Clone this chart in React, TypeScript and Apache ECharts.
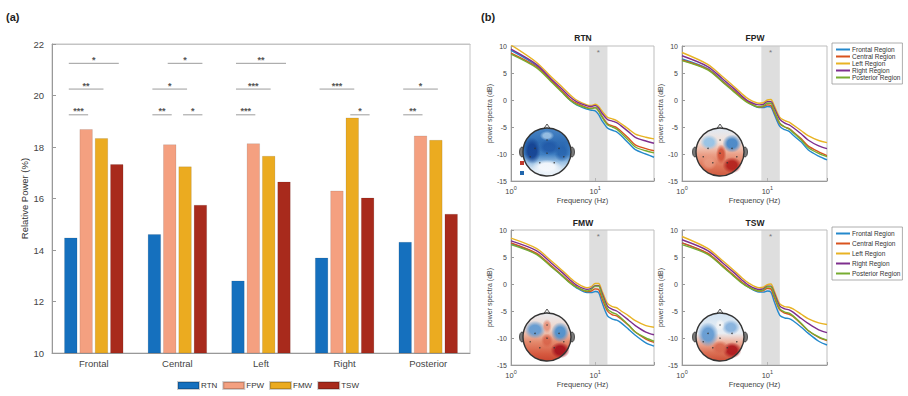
import React, { useEffect, useRef } from 'react';
import * as echarts from 'echarts';

// ---------- (a) bar chart data ----------
const regions = ['Frontal', 'Central', 'Left', 'Right', 'Posterior'];
const groups = ['RTN', 'FPW', 'FMW', 'TSW'];
const rtnPower = [14.48, 14.61, 12.81, 13.7, 14.31];
const fpwPower = [18.69, 18.1, 18.14, 16.3, 18.44];
const fmwPower = [18.34, 17.24, 17.65, 19.14, 18.27];
const tswPower = [17.33, 15.75, 16.65, 16.03, 15.4];
const yTicksA = { min: 10, max: 22, interval: 2 };

// significance brackets
const sigCategory = [0, 0, 0, 1, 1, 1, 1, 2, 2, 2, 3, 3, 4, 4];
const sigFrom = [0, 0, 0, 1, 0, 0, 2, 0, 0, 0, 0, 2, 0, 0];
const sigTo = [3, 2, 1, 3, 2, 1, 3, 3, 2, 1, 2, 3, 2, 1];
const sigLevel = [21.25, 20.25, 19.25, 21.25, 20.25, 19.25, 19.25, 21.25, 20.25, 19.25, 20.25, 19.25, 20.25, 19.25];
const sigStars = [1, 2, 3, 1, 1, 2, 1, 2, 3, 3, 3, 1, 1, 2];

// ---------- (b) spectra data ----------
const freqHz = [1, 2, 3, 4, 5, 6, 8, 9, 10, 11, 12, 14, 16, 18, 20, 25, 30, 40, 50];
const alphaBand = [8.5, 14];
const regionNames = ['Frontal Region', 'Central Region', 'Left Region', 'Right Region', 'Posterior Region'];

const rtnFrontal = [9.2, 6.4, 3.6, 1.6, 0.0, -0.9, -1.7, -1.9, -2.0, -2.7, -3.8, -5.2, -5.6, -5.9, -6.5, -8.0, -9.2, -10.0, -10.6];
const rtnCentral = [8.7, 6.2, 3.6, 1.7, 0.2, -0.6, -1.4, -1.5, -1.4, -2.0, -3.0, -4.4, -4.8, -5.1, -5.7, -7.1, -8.3, -9.0, -9.4];
const rtnLeft = [10.2, 7.0, 4.3, 2.5, 1.0, 0.0, -0.9, -1.0, -0.8, -1.2, -2.0, -3.2, -3.5, -3.8, -4.3, -5.4, -6.3, -6.9, -7.2];
const rtnRight = [9.4, 6.6, 3.9, 2.1, 0.6, -0.3, -1.1, -1.2, -1.0, -1.5, -2.4, -3.6, -3.9, -4.2, -4.7, -5.9, -6.9, -7.6, -8.0];
const rtnPosterior = [8.5, 6.0, 3.4, 1.5, 0.0, -0.8, -1.5, -1.6, -1.4, -2.0, -3.1, -4.6, -5.0, -5.4, -6.0, -7.5, -8.7, -9.4, -9.8];

const fpwFrontal = [7.6, 5.8, 3.5, 1.8, 0.5, -0.5, -1.4, -1.4, -1.2, -1.3, -2.6, -4.9, -5.5, -5.8, -6.5, -7.8, -9.2, -10.4, -11.1];
const fpwCentral = [7.4, 5.7, 3.4, 1.8, 0.5, -0.4, -1.3, -1.2, -0.9, -1.0, -2.2, -4.4, -5.0, -5.3, -5.9, -7.2, -8.5, -9.6, -10.3];
const fpwLeft = [8.8, 6.6, 4.3, 2.6, 1.2, 0.2, -0.6, -0.5, 0.0, 0.1, -1.0, -3.2, -3.8, -4.1, -4.6, -5.7, -6.6, -7.5, -7.9];
const fpwRight = [8.2, 6.2, 3.9, 2.2, 0.8, -0.2, -0.9, -0.8, -0.3, -0.3, -1.4, -3.6, -4.3, -4.6, -5.1, -6.3, -7.4, -8.5, -9.0];
const fpwPosterior = [7.3, 5.6, 3.3, 1.6, 0.3, -0.6, -1.3, -1.1, -0.6, -0.6, -1.9, -4.3, -5.0, -5.4, -6.0, -7.4, -8.8, -9.9, -10.5];

const fmwFrontal = [7.5, 5.6, 3.3, 1.6, 0.3, -0.7, -1.6, -1.6, -1.4, -1.6, -3.3, -5.9, -6.5, -6.7, -7.1, -8.4, -9.5, -10.9, -11.5];
const fmwCentral = [7.6, 5.7, 3.4, 1.7, 0.4, -0.5, -1.4, -1.3, -0.9, -1.0, -2.6, -5.0, -5.7, -5.9, -6.4, -7.7, -8.9, -10.2, -10.8];
const fmwLeft = [8.5, 6.6, 4.3, 2.6, 1.2, 0.2, -0.7, -0.5, 0.1, 0.1, -1.2, -3.6, -4.2, -4.4, -4.9, -5.9, -6.8, -7.7, -8.0];
const fmwRight = [8.0, 6.2, 3.9, 2.2, 0.8, -0.2, -1.0, -0.8, -0.3, -0.3, -1.6, -4.1, -4.7, -5.0, -5.5, -6.7, -7.7, -8.9, -9.4];
const fmwPosterior = [7.3, 5.5, 3.2, 1.6, 0.2, -0.6, -1.3, -1.0, -0.4, -0.4, -2.0, -4.6, -5.3, -5.6, -6.2, -7.6, -8.9, -10.0, -10.6];

const tswFrontal = [7.6, 5.6, 3.3, 1.6, 0.3, -0.6, -1.5, -1.5, -1.3, -1.5, -3.2, -5.8, -6.3, -6.4, -6.8, -8.0, -9.1, -10.6, -11.3];
const tswCentral = [7.6, 5.7, 3.4, 1.7, 0.4, -0.5, -1.3, -1.2, -0.8, -0.9, -2.4, -4.8, -5.4, -5.6, -6.0, -7.4, -8.6, -9.9, -10.5];
const tswLeft = [8.8, 6.6, 4.3, 2.6, 1.2, 0.2, -0.7, -0.6, -0.1, 0.0, -1.2, -3.7, -4.2, -4.3, -4.6, -5.6, -6.4, -7.2, -7.5];
const tswRight = [8.2, 6.2, 3.9, 2.2, 0.8, -0.2, -1.0, -0.9, -0.4, -0.4, -1.6, -4.1, -4.6, -4.8, -5.2, -6.4, -7.3, -8.5, -9.0];
const tswPosterior = [7.3, 5.5, 3.2, 1.5, 0.2, -0.6, -1.3, -1.1, -0.5, -0.5, -2.0, -4.6, -5.2, -5.4, -5.9, -7.3, -8.6, -9.8, -10.4];

const FONT = 'Liberation Sans, Arial, Helvetica, sans-serif';
const barColors = ['#1570be', '#f4a080', '#ebab20', '#a82a1c'];
const lineColors = ['#2489cc', '#d9531e', '#e8b324', '#7e2f8e', '#77ac30'];
const BAR_W = 13;
const BAR_GAP = 0.18;

function radial(color: string, clear: string) {
  return new echarts.graphic.RadialGradient(0.5, 0.5, 0.5, [
    { offset: 0, color },
    { offset: 0.5, color },
    { offset: 1, color: clear },
  ]);
}

function makeHead(cx: number, cy: number, r: number, base: any, blobs: any[]) {
  const children: any[] = [];
  children.push({ type: 'ellipse', shape: { cx: cx - r - 1, cy, rx: 2.5, ry: 5 }, style: { fill: '#7a7a7a', stroke: '#333', lineWidth: 0.8 } });
  children.push({ type: 'ellipse', shape: { cx: cx + r + 1, cy, rx: 2.5, ry: 5 }, style: { fill: '#7a7a7a', stroke: '#333', lineWidth: 0.8 } });
  children.push({ type: 'polygon', shape: { points: [[cx - 3.5, cy - r + 1], [cx, cy - r - 4], [cx + 3.5, cy - r + 1]] }, style: { fill: '#eee', stroke: '#333', lineWidth: 0.8 } });
  children.push({ type: 'circle', shape: { cx, cy, r }, style: { fill: base } });
  blobs.forEach((b) => {
    children.push({
      type: 'ellipse',
      shape: { cx: cx + b[0] * r, cy: cy + b[1] * r, rx: b[2] * r, ry: b[3] * r },
      style: { fill: radial(b[4], b[5]) },
    });
  });
  [[-0.5, -0.15], [0.5, -0.15], [0, 0.05], [-0.3, 0.45], [0.3, 0.45], [0, -0.5], [-0.7, 0.2], [0.7, 0.2]].forEach((d) => {
    children.push({ type: 'circle', shape: { cx: cx + d[0] * r, cy: cy + d[1] * r, r: 0.7 }, style: { fill: '#333' } });
  });
  children.push({ type: 'circle', shape: { cx, cy, r }, style: { fill: 'none', stroke: '#333', lineWidth: 1.4 } });
  return { type: 'group', z: 100, children };
}

function vgrad(stops: [number, string][]) {
  return new echarts.graphic.LinearGradient(0, 0, 0, 1, stops.map(([offset, color]) => ({ offset, color })));
}

export default function App() {
  const ref = useRef<HTMLDivElement>(null);
  useEffect(() => {
    document.body.style.margin = '0';
    const chart = echarts.init(ref.current!, null, { renderer: 'svg' });

    const barValues = [rtnPower, fpwPower, fmwPower, tswPower];
    const panelNames = ['RTN', 'FPW', 'FMW', 'TSW'];
    const panelData = [
      [rtnFrontal, rtnCentral, rtnLeft, rtnRight, rtnPosterior],
      [fpwFrontal, fpwCentral, fpwLeft, fpwRight, fpwPosterior],
      [fmwFrontal, fmwCentral, fmwLeft, fmwRight, fmwPosterior],
      [tswFrontal, tswCentral, tswLeft, tswRight, tswPosterior],
    ];
    const panelGrids = [
      { left: 511, top: 46, width: 143, height: 135 },
      { left: 682, top: 46, width: 145, height: 135 },
      { left: 511, top: 230, width: 143, height: 135 },
      { left: 682, top: 230, width: 145, height: 135 },
    ];

    const grids: any[] = [
      { left: 52, top: 44, width: 418, height: 309, show: true, borderColor: '#c4c4c4', borderWidth: 1 },
      ...panelGrids.map((g) => ({ ...g, show: true, borderColor: '#bdbdbd', borderWidth: 1 })),
    ];

    const axisLabelStyle = { fontFamily: FONT, color: '#444' };

    const xAxes: any[] = [
      {
        type: 'category', gridIndex: 0, data: regions, position: 'bottom',
        axisLine: { lineStyle: { color: '#999' } },
        axisTick: { alignWithLabel: true, inside: true, length: 4, lineStyle: { color: '#999' } },
        axisLabel: { ...axisLabelStyle, fontSize: 9.5, margin: 5 },
      },
      {
        type: 'category', gridIndex: 0, data: regions, position: 'top',
        axisLine: { lineStyle: { color: '#c4c4c4' } },
        axisTick: { alignWithLabel: true, inside: true, length: 4, lineStyle: { color: '#999' } },
        axisLabel: { show: false },
      },
    ];
    const yAxes: any[] = [
      {
        type: 'value', gridIndex: 0, ...yTicksA,
        axisLine: { show: true, lineStyle: { color: '#999' } },
        axisTick: { show: true, inside: true, length: 4, lineStyle: { color: '#999' } },
        splitLine: { show: false },
        axisLabel: { ...axisLabelStyle, fontSize: 9.5, margin: 8 },
        name: 'Relative Power (%)', nameLocation: 'middle', nameGap: 15, nameRotate: 90,
        nameTextStyle: { fontFamily: FONT, fontSize: 9.5, color: '#333' },
      },
    ];
    const X0 = xAxes.length;
    const Y0 = yAxes.length;

    panelGrids.forEach((_, i) => {
      xAxes.push({
        type: 'log', logBase: 10, min: 1, max: 50, gridIndex: i + 1,
        axisLine: { show: true, onZero: false, lineStyle: { color: '#999' } },
        axisTick: { show: true, inside: true, length: 3, lineStyle: { color: '#999' } },
        splitLine: { show: false },
        axisLabel: {
          margin: 4,
          formatter: (v: number) => {
            const e = Math.log10(v);
            if (Math.abs(e - Math.round(e)) > 1e-6) return '';
            return '{b|10}{s|' + Math.round(e) + '}';
          },
          rich: {
            b: { fontFamily: FONT, fontSize: 7.5, color: '#444', verticalAlign: 'bottom', lineHeight: 10 },
            s: { fontFamily: FONT, fontSize: 5.5, color: '#444', verticalAlign: 'top', lineHeight: 10, padding: [0, 0, 4, 0] },
          },
        },
        name: 'Frequency (Hz)', nameLocation: 'middle', nameGap: 15,
        nameTextStyle: { fontFamily: FONT, fontSize: 7.5, color: '#444' },
      });
      yAxes.push({
        type: 'value', gridIndex: i + 1, min: -15, max: 10, interval: 5,
        axisLine: { show: true, onZero: false, lineStyle: { color: '#999' } },
        axisTick: { show: true, inside: true, length: 3, lineStyle: { color: '#999' } },
        splitLine: { show: false },
        axisLabel: { ...axisLabelStyle, fontSize: 7, margin: 4 },
        name: 'power spectra (dB)', nameLocation: 'middle', nameGap: 16, nameRotate: 90,
        nameTextStyle: { fontFamily: FONT, fontSize: 7, color: '#444' },
      });
    });

    const series: any[] = [];
    barValues.forEach((vals, gi) => {
      series.push({
        type: 'bar', name: groups[gi], xAxisIndex: 0, yAxisIndex: 0, data: vals,
        barWidth: BAR_W, barGap: BAR_GAP * 100 + '%',
        itemStyle: { color: barColors[gi], borderColor: 'rgba(0,0,0,0.2)', borderWidth: 0.5 },
        z: 2,
      });
    });
    const pitch = BAR_W * (1 + BAR_GAP);
    series.push({
      type: 'custom', name: 'sig', xAxisIndex: 0, yAxisIndex: 0, z: 5, silent: true,
      data: sigCategory.map((c, i) => [c, sigLevel[i], sigFrom[i], sigTo[i], sigStars[i]]),
      encode: { x: 0, y: 1 },
      renderItem: (params: any, api: any) => {
        const p = api.coord([api.value(0), api.value(1)]);
        const x1 = p[0] + (api.value(2) - 1.5) * pitch - 2;
        const x2 = p[0] + (api.value(3) - 1.5) * pitch + 2;
        return {
          type: 'group',
          children: [
            { type: 'line', shape: { x1, y1: p[1], x2, y2: p[1] }, style: { stroke: '#9c9c9c', lineWidth: 1 } },
            {
              type: 'text',
              style: {
                text: '*'.repeat(api.value(4)), x: (x1 + x2) / 2, y: p[1] + 1,
                align: 'center', verticalAlign: 'bottom', fill: '#555',
                font: 'bold 9px ' + FONT,
              },
            },
          ],
        };
      },
    });

    panelData.forEach((lines, pi) => {
      series.push({
        type: 'line', name: 'band' + pi, xAxisIndex: X0 + pi, yAxisIndex: Y0 + pi, data: [], z: 1, silent: true,
        markArea: {
          silent: true,
          itemStyle: { color: 'rgba(200,200,200,0.6)' },
          label: { show: true, position: 'insideTop', formatter: '*', fontSize: 8, color: '#777', distance: 2, fontFamily: FONT },
          data: [[{ xAxis: alphaBand[0] }, { xAxis: alphaBand[1] }]],
        },
      });
      lines.forEach((vals, ri) => {
        series.push({
          type: 'line', name: regionNames[ri], xAxisIndex: X0 + pi, yAxisIndex: Y0 + pi,
          data: freqHz.map((f, k) => [f, vals[k]]),
          showSymbol: false, smooth: 0.3, z: 3,
          lineStyle: { width: 1.4, color: lineColors[ri] },
          itemStyle: { color: lineColors[ri] },
        });
      });
    });

    const titleCenters = [[583, 33], [755, 33], [583, 218], [755, 218]];
    const titles: any[] = [
      { text: '(a)', left: 6, top: 11, padding: 0, textStyle: { fontFamily: FONT, fontSize: 11, fontWeight: 'bold', color: '#222' } },
      { text: '(b)', left: 481, top: 11, padding: 0, textStyle: { fontFamily: FONT, fontSize: 11, fontWeight: 'bold', color: '#222' } },
      ...panelNames.map((n, i) => ({
        text: n, left: titleCenters[i][0], top: titleCenters[i][1], textAlign: 'center', padding: 0,
        textStyle: { fontFamily: FONT, fontSize: 8.5, fontWeight: 'bold', color: '#222' },
      })),
    ];

    const regionLegend = (top: number, gap: number) => ({
      data: regionNames, orient: 'vertical', left: 832, top, icon: 'rect',
      itemWidth: 14, itemHeight: 2, itemGap: gap, padding: [3, 2, 3, 4],
      borderColor: '#9a9a9a', borderWidth: 0.8, selectedMode: false,
      textStyle: { fontFamily: FONT, fontSize: 6.5, color: '#333', lineHeight: 7, padding: [0, 0, 0, -3] },
    });

    const heads = [
      makeHead(547, 152, 24,
        vgrad([[0, '#4a86c6'], [0.3, '#2e6cb4'], [0.55, '#3f7fc2'], [0.72, '#9cc2e4'], [0.88, '#e2edf7'], [1, '#eef4fa']]),
        [
          [-0.62, -0.05, 0.36, 0.55, 'rgba(20,65,145,0.9)', 'rgba(20,65,145,0)'],
          [0.1, -0.2, 0.45, 0.32, 'rgba(30,85,165,0.75)', 'rgba(30,85,165,0)'],
          [0.62, 0.0, 0.32, 0.42, 'rgba(35,95,170,0.7)', 'rgba(35,95,170,0)'],
          [0, -0.68, 0.3, 0.2, 'rgba(170,205,235,0.8)', 'rgba(170,205,235,0)'],
          [0, 0.62, 0.62, 0.3, 'rgba(245,248,252,0.95)', 'rgba(245,248,252,0)'],
        ]),
      makeHead(720, 152, 24,
        vgrad([[0, '#dfe9f4'], [0.3, '#f4e1d8'], [0.55, '#eba088'], [0.8, '#de7558'], [1, '#cf5a40']]),
        [
          [-0.45, -0.4, 0.38, 0.32, 'rgba(150,195,230,0.95)', 'rgba(150,195,230,0)'],
          [0.5, -0.35, 0.4, 0.38, 'rgba(70,135,200,0.95)', 'rgba(70,135,200,0)'],
          [0.05, 0.1, 0.22, 0.42, 'rgba(210,80,55,0.9)', 'rgba(210,80,55,0)'],
          [0.5, 0.55, 0.4, 0.34, 'rgba(180,35,30,0.95)', 'rgba(180,35,30,0)'],
          [-0.45, 0.45, 0.32, 0.3, 'rgba(235,160,135,0.7)', 'rgba(235,160,135,0)'],
        ]),
      makeHead(547, 337, 24,
        vgrad([[0, '#e9ecf1'], [0.35, '#f0d2c5'], [0.6, '#e48a6d'], [0.85, '#d65a40'], [1, '#c84530']]),
        [
          [-0.5, -0.3, 0.44, 0.38, 'rgba(100,155,210,0.95)', 'rgba(100,155,210,0)'],
          [0.55, -0.2, 0.38, 0.42, 'rgba(80,145,205,0.95)', 'rgba(80,145,205,0)'],
          [0.0, -0.45, 0.2, 0.3, 'rgba(230,135,110,0.8)', 'rgba(230,135,110,0)'],
          [0.0, 0.15, 0.25, 0.3, 'rgba(215,95,70,0.8)', 'rgba(215,95,70,0)'],
          [0.55, 0.55, 0.4, 0.34, 'rgba(165,20,30,0.95)', 'rgba(165,20,30,0)'],
        ]),
      makeHead(720, 337, 24,
        vgrad([[0, '#d2e3f2'], [0.42, '#e9eef4'], [0.6, '#eeb39f'], [0.82, '#dc7256'], [1, '#cc5038']]),
        [
          [-0.5, -0.1, 0.44, 0.52, 'rgba(100,155,210,0.95)', 'rgba(100,155,210,0)'],
          [0.45, -0.4, 0.38, 0.32, 'rgba(130,175,220,0.9)', 'rgba(130,175,220,0)'],
          [0.0, -0.5, 0.2, 0.25, 'rgba(245,245,245,0.85)', 'rgba(245,245,245,0)'],
          [0.5, 0.55, 0.4, 0.34, 'rgba(175,25,30,0.95)', 'rgba(175,25,30,0)'],
          [0.0, 0.45, 0.36, 0.3, 'rgba(215,100,75,0.85)', 'rgba(215,100,75,0)'],
        ]),
      { type: 'rect', z: 100, shape: { x: 520, y: 161, width: 4, height: 4 }, style: { fill: '#c0392b' } },
      { type: 'rect', z: 100, shape: { x: 520, y: 171, width: 4, height: 4 }, style: { fill: '#2166ac' } },
    ];

    chart.setOption({
      animation: false,
      backgroundColor: '#fff',
      textStyle: { fontFamily: FONT },
      title: titles,
      grid: grids,
      xAxis: xAxes,
      yAxis: yAxes,
      legend: [
        {
          data: groups, left: 172, top: 376, icon: 'rect', itemWidth: 21, itemHeight: 7, itemGap: 5,
          selectedMode: false,
          textStyle: { fontFamily: FONT, fontSize: 8, color: '#333', padding: [0, 0, 0, -3] },
        },
        regionLegend(43, 0),
        regionLegend(227, 3),
      ],
      series,
      graphic: heads,
    });
    return () => chart.dispose();
  }, []);
  return <div ref={ref} style={{ width: 908, height: 396 }} />;
}
